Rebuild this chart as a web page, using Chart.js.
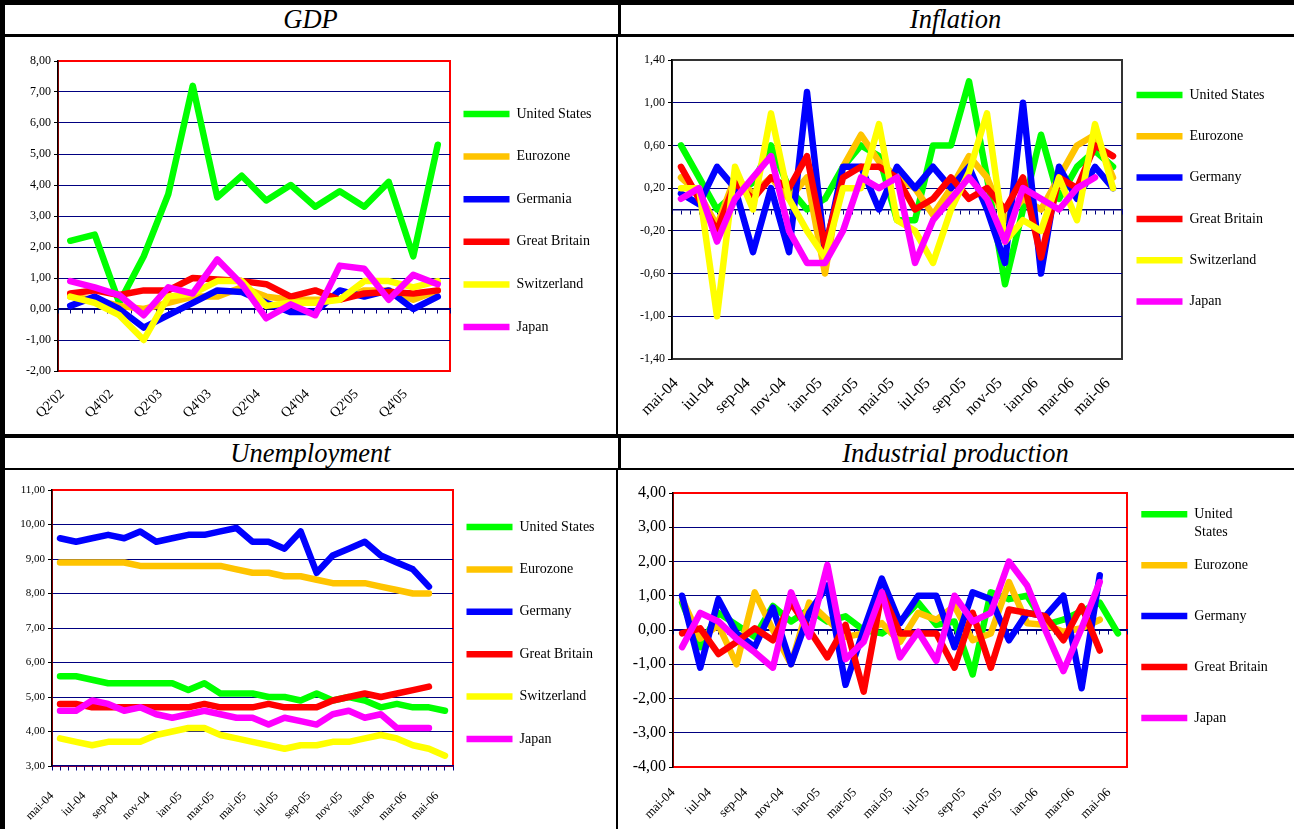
<!DOCTYPE html>
<html>
<head>
<meta charset="utf-8">
<script src="https://cdn.jsdelivr.net/npm/chart.js@4.4.0/dist/chart.umd.min.js"></script>
<style>
body { margin: 0; background: #fff; }
#page { position: relative; width: 1294px; height: 829px; overflow: hidden; background: #fff; font-family: "Liberation Serif", "Times New Roman", serif; }
.ln { position: absolute; background: #000; }
.hd { position: absolute; display: flex; align-items: center; justify-content: center; font-style: italic; font-size: 26.5px; color: #000; }
canvas { position: absolute; }
</style>
</head>
<body>
<div id="page">
  <div class="ln" style="left:0;top:0;width:1294px;height:5px"></div>
  <div class="ln" style="left:0;top:0;width:5px;height:829px"></div>
  <div class="ln" style="left:0;top:34px;width:1294px;height:3px"></div>
  <div class="ln" style="left:0;top:434px;width:1294px;height:4px"></div>
  <div class="ln" style="left:0;top:468px;width:1294px;height:2px"></div>
  <div class="ln" style="left:618px;top:5px;width:3px;height:29px"></div>
  <div class="ln" style="left:616px;top:37px;width:2px;height:397px"></div>
  <div class="ln" style="left:618px;top:438px;width:3px;height:30px"></div>
  <div class="ln" style="left:616px;top:470px;width:2px;height:359px"></div>

  <div class="hd" style="left:5px;top:5px;width:611px;height:29px">GDP</div>
  <div class="hd" style="left:621px;top:5px;width:669px;height:29px">Inflation</div>
  <div class="hd" style="left:5px;top:438px;width:611px;height:30px">Unemployment</div>
  <div class="hd" style="left:621px;top:438px;width:669px;height:30px">Industrial production</div>

  <canvas id="gdp" width="611" height="396" style="left:5px;top:38px"></canvas>
  <canvas id="inflation" width="673" height="396" style="left:621px;top:38px"></canvas>
  <canvas id="unemployment" width="611" height="358" style="left:5px;top:471px"></canvas>
  <canvas id="industrial" width="673" height="358" style="left:621px;top:471px"></canvas>
</div>

<script>
// categories
let quarters = ["Q2'02","Q3'02","Q4'02","Q1'03","Q2'03","Q3'03","Q4'03","Q1'04","Q2'04","Q3'04","Q4'04","Q1'05","Q2'05","Q3'05","Q4'05","Q1'06"];
let months = ["mai-04","iun-04","iul-04","aug-04","sep-04","oct-04","nov-04","dec-04","ian-05","feb-05","mar-05","apr-05",
              "mai-05","iun-05","iul-05","aug-05","sep-05","oct-05","nov-05","dec-05","ian-06","feb-06","mar-06","apr-06","mai-06"];

// GDP
let gdpUS   = [2.2, 2.4, 0.2, 1.7, 3.7, 7.2, 3.6, 4.3, 3.5, 4.0, 3.3, 3.8, 3.3, 4.1, 1.7, 5.3];
let gdpEuro = [0.4, 0.3, 0.1, 0.0, 0.2, 0.4, 0.4, 0.7, 0.4, 0.3, 0.3, 0.3, 0.6, 0.6, 0.3, 0.6];
let gdpGer  = [0.1, 0.4, 0.0, -0.6, -0.2, 0.2, 0.6, 0.55, 0.2, -0.1, -0.1, 0.6, 0.4, 0.6, 0.0, 0.4];
let gdpGB   = [0.5, 0.6, 0.45, 0.6, 0.6, 1.0, 0.95, 0.9, 0.8, 0.4, 0.6, 0.3, 0.5, 0.55, 0.5, 0.6];
let gdpCH   = [0.4, 0.2, -0.2, -1.0, 0.4, 0.5, 0.9, 0.9, 0.1, 0.2, 0.2, 0.3, 0.9, 0.9, 0.7, 0.9];
let gdpJP   = [0.9, 0.7, 0.45, -0.2, 0.7, 0.5, 1.6, 0.8, -0.3, 0.15, -0.2, 1.4, 1.3, 0.3, 1.1, 0.8];

// Inflation
let infUS   = [0.6, 0.3, 0.0, 0.15, 0.25, 0.6, 0.2, 0.0, 0.1, 0.4, 0.6, 0.5, -0.1, -0.1, 0.6, 0.6, 1.2, 0.3, -0.7, 0.0, 0.7, 0.1, 0.4, 0.55, 0.4];
let infEuro = [0.3, 0.15, -0.15, 0.3, 0.15, 0.3, 0.1, 0.3, -0.6, 0.4, 0.7, 0.45, 0.3, 0.2, -0.05, 0.2, 0.5, 0.3, -0.1, 0.1, 0.0, 0.3, 0.6, 0.7, 0.3];
let infGer  = [0.15, 0.05, 0.4, 0.2, -0.4, 0.2, -0.4, 1.1, -0.4, 0.4, 0.4, 0.0, 0.4, 0.2, 0.4, 0.2, 0.4, 0.0, -0.5, 1.0, -0.6, 0.4, 0.1, 0.4, 0.2];
let infGB   = [0.4, 0.1, -0.2, 0.25, 0.1, 0.3, 0.2, 0.5, -0.35, 0.3, 0.4, 0.4, 0.3, 0.0, 0.1, 0.3, 0.1, 0.2, 0.0, 0.3, -0.45, 0.3, 0.2, 0.6, 0.5];
let infCH   = [0.2, 0.2, -1.0, 0.4, 0.0, 0.9, 0.1, -0.2, -0.45, 0.2, 0.2, 0.8, -0.1, -0.2, -0.5, 0.0, 0.35, 0.9, -0.3, -0.1, -0.2, 0.3, -0.1, 0.8, 0.2];
let infJP   = [0.1, 0.2, -0.3, 0.1, 0.3, 0.5, -0.2, -0.5, -0.5, -0.2, 0.3, 0.2, 0.3, -0.5, -0.1, 0.1, 0.3, 0.1, -0.3, 0.2, 0.1, 0.0, 0.2, 0.3];

// Unemployment
let unUS   = [5.6, 5.6, 5.5, 5.4, 5.4, 5.4, 5.4, 5.4, 5.2, 5.4, 5.1, 5.1, 5.1, 5.0, 5.0, 4.9, 5.1, 4.9, 5.0, 4.9, 4.7, 4.8, 4.7, 4.7, 4.6];
let unEuro = [8.9, 8.9, 8.9, 8.9, 8.9, 8.8, 8.8, 8.8, 8.8, 8.8, 8.8, 8.7, 8.6, 8.6, 8.5, 8.5, 8.4, 8.3, 8.3, 8.3, 8.2, 8.1, 8.0, 8.0];
let unGer  = [9.6, 9.5, 9.6, 9.7, 9.6, 9.8, 9.5, 9.6, 9.7, 9.7, 9.8, 9.9, 9.5, 9.5, 9.3, 9.8, 8.6, 9.1, 9.3, 9.5, 9.1, 8.9, 8.7, 8.2];
let unGB   = [4.8, 4.8, 4.7, 4.7, 4.7, 4.7, 4.7, 4.7, 4.7, 4.8, 4.7, 4.7, 4.7, 4.8, 4.7, 4.7, 4.7, 4.9, 5.0, 5.1, 5.0, 5.1, 5.2, 5.3];
let unCH   = [3.8, 3.7, 3.6, 3.7, 3.7, 3.7, 3.9, 4.0, 4.1, 4.1, 3.9, 3.8, 3.7, 3.6, 3.5, 3.6, 3.6, 3.7, 3.7, 3.8, 3.9, 3.8, 3.6, 3.5, 3.3];
let unJP   = [4.6, 4.6, 4.9, 4.8, 4.6, 4.7, 4.5, 4.4, 4.5, 4.6, 4.5, 4.4, 4.4, 4.2, 4.4, 4.3, 4.2, 4.5, 4.6, 4.4, 4.5, 4.1, 4.1, 4.1];

// Industrial production
let indUS   = [0.8, -0.5, 0.5, 0.15, -0.2, 0.7, 0.25, 0.6, 0.25, 0.4, 0.0, -0.1, 0.25, 0.8, 0.15, 0.25, -1.3, 1.1, 0.9, 1.0, 0.15, 0.3, 0.55, 0.8, -0.1];
let indEuro = [0.9, -0.25, 0.15, -1.0, 1.1, 0.0, -1.0, 0.8, 0.3, -0.2, -0.1, 0.2, -0.35, 0.5, 0.3, 0.7, -0.3, -0.1, 1.4, 0.2, 0.15, -0.05, 0.05, 0.3];
let indGer  = [1.0, -1.1, 0.9, -0.1, -0.5, 0.65, -1.0, 0.5, 1.3, -1.6, 0.0, 1.5, 0.2, 1.0, 1.0, -0.5, 1.1, 0.9, -0.3, 0.5, 0.4, 1.0, -1.7, 1.6];
let indGB   = [-0.1, 0.05, -0.7, -0.35, 0.05, -0.3, 0.8, 0.0, -0.8, 0.15, -1.8, 1.1, -0.1, -0.1, -0.1, -1.1, 0.5, -1.1, 0.6, 0.5, 0.4, -0.3, 0.7, -0.6];
let indJP   = [-0.5, 0.5, 0.25, -0.25, -0.65, -1.1, 1.1, -0.2, 1.9, -0.85, -0.35, 1.1, -0.8, -0.05, -0.9, 1.0, 0.25, 0.5, 2.0, 1.3, 0.0, -1.2, 0.05, 1.4];

let serif = "'Liberation Serif', 'Times New Roman', serif";
let navy = "#000080";
let green = "#00ff00", orange = "#ffc400", blue = "#0000ff", red = "#ff0000", yellow = "#ffff00", magenta = "#ff00ff";

// plot frame, drawn under the grid
let frame = {
    id: "frame",
    beforeDraw(chart, args, o) {
        let a = chart.chartArea, ctx = chart.ctx;
        ctx.save();
        ctx.lineWidth = o.width;
        ctx.strokeStyle = o.color;
        ctx.strokeRect(a.left, a.top, a.right - a.left, a.bottom - a.top);
        ctx.restore();
    }
};

function line(label, data, color) {
    return {
        label: label, data: data, borderColor: color, backgroundColor: color,
        borderWidth: 6.5, pointRadius: 0, tension: 0, fill: false,
        borderCapStyle: "round", borderJoinStyle: "round"
    };
}

function fmt(v) {
    return v.toFixed(2).replace(".", ",");
}

function makeChart(id, cats, sets, c) {
    let n = cats.length;
    sets.forEach((s, i) => { s.order = sets.length - i; });
    new Chart(document.getElementById(id), {
        type: "line",
        data: { labels: cats, datasets: sets },
        plugins: [frame],
        options: {
            responsive: false,
            animation: false,
            devicePixelRatio: 1,
            layout: { padding: { top: c.top, right: c.right, bottom: 0, left: 0 } },
            scales: {
                x: {
                    offset: true,
                    grid: { display: false, drawTicks: false },
                    border: { display: false },
                    ticks: {
                        autoSkip: false, minRotation: 45, maxRotation: 45, color: "#000",
                        padding: c.xPad, labelOffset: c.xShift,
                        font: { family: serif, size: c.xFont },
                        callback: function(v, i) { return i % 2 === 0 ? this.getLabelForValue(v) : ""; }
                    },
                    afterFit: s => { s.height = c.xH; }
                },
                x2: {
                    type: "linear", position: { y: c.base }, min: -0.5, max: n - 0.5,
                    ticks: { display: false, stepSize: 0.5 },
                    grid: { drawOnChartArea: false, drawTicks: true, tickLength: 4, color: navy },
                    border: { color: navy, width: 1.5 },
                    afterFit: s => { s.height = 0; }
                },
                y: {
                    min: c.min, max: c.max,
                    ticks: { stepSize: c.step, color: "#000", padding: 3, font: { family: serif, size: c.yFont }, callback: fmt },
                    grid: {
                        color: ctx => (ctx.tick && (Math.abs(ctx.tick.value - c.min) < 1e-6 || Math.abs(ctx.tick.value - c.max) < 1e-6)) ? "rgba(0,0,0,0)" : navy,
                        lineWidth: 1, tickLength: 4, tickColor: "#000"
                    },
                    border: { color: "#000", width: 1.5 },
                    afterFit: s => { s.width = c.yW; }
                }
            },
            plugins: {
                frame: { color: c.frame, width: 2 },
                tooltip: { enabled: false },
                legend: {
                    position: "right", align: "start", fullSize: false, maxWidth: 150,
                    title: { display: c.titleH > 0, text: " ", font: { size: 1, lineHeight: 1 }, padding: { top: Math.max(c.titleH - 1, 0), bottom: 0 } },
                    labels: {
                        usePointStyle: true, pointStyle: "line", pointStyleWidth: 46, padding: c.P, color: "#000",
                        font: { family: serif, size: 14, lineHeight: c.lh / 14 },
                        sort: (a, b) => a.datasetIndex - b.datasetIndex,
                        generateLabels: ch => {
                            let items = Chart.defaults.plugins.legend.labels.generateLabels(ch);
                            items.sort((a, b) => a.datasetIndex - b.datasetIndex);
                            return items.map((it, i) => {
                                if (it.text.indexOf("\n") >= 0) it.text = it.text.split("\n");
                                else it.text = i === items.length - 1 ? [it.text] : [it.text, ""];
                                return it;
                            });
                        }
                    }
                }
            }
        }
    });
}

makeChart("gdp", quarters, [
    line("United States", gdpUS, green),
    line("Eurozone", gdpEuro, orange),
    line("Germania", gdpGer, blue),
    line("Great Britain", gdpGB, red),
    line("Switzerland", gdpCH, yellow),
    line("Japan", gdpJP, magenta)
], { top: 23, right: 16, xH: 63, yW: 53, min: -2, max: 8, step: 1, yFont: 12, xFont: 14, xPad: 15, xShift: -8,
     base: 0, frame: "#ff0000", P: 13.5, lh: 14.55, titleH: 32.5 });

makeChart("inflation", months, [
    line("United States", infUS, green),
    line("Eurozone", infEuro, orange),
    line("Germany", infGer, blue),
    line("Great Britain", infGB, red),
    line("Switzerland", infCH, yellow),
    line("Japan", infJP, magenta)
], { top: 22, right: 22, xH: 75, yW: 51, min: -1.4, max: 1.4, step: 0.4, yFont: 12, xFont: 16, xPad: 15, xShift: -5,
     base: 0, frame: "#333333", P: 14.5, lh: 13.4, titleH: 13.5 });

makeChart("unemployment", months, [
    line("United States", unUS, green),
    line("Eurozone", unEuro, orange),
    line("Germany", unGer, blue),
    line("Great Britain", unGB, red),
    line("Switzerland", unCH, yellow),
    line("Japan", unJP, magenta)
], { top: 19, right: 13, xH: 63, yW: 47, min: 3, max: 11, step: 1, yFont: 11, xFont: 12, xPad: 23, xShift: -8,
     base: 3, frame: "#ff0000", P: 13.5, lh: 14.45, titleH: 16.5 });

makeChart("industrial", months, [
    line("United\nStates", indUS, green),
    line("Eurozone", indEuro, orange),
    line("Germany", indGer, blue),
    line("Great Britain", indGB, red),
    line("Japan", indJP, magenta)
], { top: 22, right: 17, xH: 62, yW: 52, min: -4, max: 4, step: 1, yFont: 16, xFont: 13, xPad: 18, xShift: -9,
     base: 0, frame: "#ff0000", P: 14.3, lh: 18.3, titleH: 0 });
</script>
</body>
</html>
